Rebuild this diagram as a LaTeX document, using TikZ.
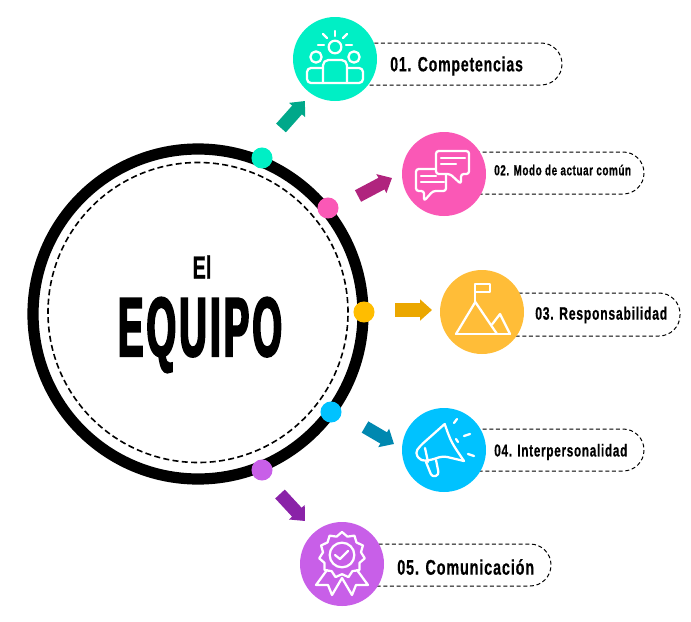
\documentclass[tikz,border=0pt]{standalone}
\usepackage{fontspec}
\usetikzlibrary{arrows.meta,shapes.geometric}
\newfontfamily\labelfont[FakeStretch=0.68,LetterSpace=4,FakeBold=0.5]{Liberation Sans}
\newfontfamily\titlefont[FakeStretch=0.62,FakeBold=0.8]{Liberation Sans}
\newfontfamily\bigfont[FakeStretch=0.45,LetterSpace=4,FakeBold=2.4]{Liberation Sans}
\definecolor{tealc}{HTML}{00EFC5}
\definecolor{pinkc}{HTML}{FA58B6}
\definecolor{yellowc}{HTML}{FFBD38}
\definecolor{yellowdot}{HTML}{FFBD00}
\definecolor{bluec}{HTML}{00C2FF}
\definecolor{purplec}{HTML}{C85FE8}
\definecolor{tealarrow}{HTML}{00A88A}
\definecolor{pinkarrow}{HTML}{B0247E}
\definecolor{yellowarrow}{HTML}{EBA700}
\definecolor{bluearrow}{HTML}{0088B0}
\definecolor{purplearrow}{HTML}{8A22A8}
\tikzset{
  bigdot/.style={circle,fill=#1,inner sep=0pt,minimum size=63pt},
  smalldot/.style={circle,fill=#1,inner sep=0pt,minimum size=15.8pt},
  pill/.style={draw=black,line width=0.75pt,dash pattern=on 3pt off 2pt,rounded corners=15.7pt},
  blockarrow/.style={draw=#1,line width=9.8pt,-{Triangle[width=15.5pt,length=9pt]}},
  iconline/.style={draw=white,line width=1.7pt,line join=round,line cap=round},
  itemtext/.style={text=black,inner sep=0pt,font=\labelfont\bfseries\fontsize{#1}{#1}\selectfont}
}
\begin{document}
\begin{tikzpicture}[x=0.75pt,y=-0.75pt]
\useasboundingbox (0,0) rectangle (691,621);

% Drawing main ring
\node [circle,draw=black,line width=8.4pt,inner sep=0pt,outer sep=0pt,minimum size=247.5pt] (ring) at (198,314) {};
\node [circle,draw=black,line width=1.2pt,dash pattern=on 4.5pt off 2.5pt,inner sep=0pt,outer sep=0pt,minimum size=225pt] (ringin) at (198,312.5) {};

% Drawing title
\node [inner sep=0pt,font=\titlefont\bfseries\fontsize{24}{24}\selectfont] (titlea) at (202,267) {El};
\node [inner sep=0pt,font=\bigfont\bfseries\fontsize{63}{63}\selectfont] (titleb) at (200,335) {EQUIPO};

% Drawing dots on the ring
\node [smalldot=tealc] (dota) at (262,158) {};
\node [smalldot=pinkc] (dotb) at (328,208) {};
\node [smalldot=yellowdot] (dotc) at (364,312) {};
\node [smalldot=bluec] (dotd) at (331,412) {};
\node [smalldot=purplec] (dote) at (262,470) {};

% Drawing dashed pills
\draw [pill] (335,43) rectangle (562,85);
\draw [pill] (444,152) rectangle (644,194);
\draw [pill] (482,293) rectangle (680,336);
\draw [pill] (444,429) rectangle (644,471);
\draw [pill] (342,544) rectangle (551,586);

% Drawing big circles
\node [bigdot=tealc] (circa) at (335,59) {};
\node [bigdot=pinkc] (circb) at (444,174) {};
\node [bigdot=yellowc] (circc) at (482,312) {};
\node [bigdot=bluec] (circd) at (444,450) {};
\node [bigdot=purplec] (circe) at (342,564) {};

% Drawing arrows
\coordinate (taila) at (281,128);
\coordinate (tipa) at (305,101);
\coordinate (tailb) at (358,196);
\coordinate (tipb) at (392,178);
\coordinate (tailc) at (395,310);
\coordinate (tipc) at (432,310);
\coordinate (taild) at (365,427);
\coordinate (tipd) at (394,444);
\coordinate (taile) at (280,494);
\coordinate (tipe) at (305,521);
\draw [blockarrow=tealarrow] (taila) -- (tipa);
\draw [blockarrow=pinkarrow] (tailb) -- (tipb);
\draw [blockarrow=yellowarrow] (tailc) -- (tipc);
\draw [blockarrow=bluearrow] (taild) -- (tipd);
\draw [blockarrow=purplearrow] (taile) -- (tipe);

% Drawing labels
\node [itemtext=15.5,anchor=west] (texta) at (390,66) {01. Competencias};
\node [itemtext=10.9,anchor=west] (textb) at (494,170) {02. Modo de actuar común};
\node [itemtext=13.5,anchor=west] (textc) at (535,315) {03. Responsabilidad};
\node [itemtext=13,anchor=west] (textd) at (494,452) {04. Interpersonalidad};
\node [itemtext=15.9,anchor=west] (texte) at (397,567) {05. Comunicación};

% Drawing people icon
\begin{scope}[shift={(circa.center)}]
\node [circle,iconline,inner sep=0pt,minimum size=9.5pt] (sun) at (0,-12) {};
\node [circle,iconline,inner sep=0pt,minimum size=8.5pt] (heada) at (-19,-2) {};
\node [circle,iconline,inner sep=0pt,minimum size=8.5pt] (headb) at (19,-2) {};
\draw [iconline] (0,-28) -- (0,-23);
\draw [iconline] (-12,-25) -- (-8,-21);
\draw [iconline] (12,-25) -- (8,-21);
\draw [iconline] (-17,-14) -- (-11,-14);
\draw [iconline] (11,-14) -- (17,-14);
\draw [iconline,rounded corners=4pt] (-12,24) -- (-12,1) -- (12,1) -- (12,24);
\draw [iconline,rounded corners=3pt] (-12,9) -- (-28,9) -- (-28,24) -- (28,24) -- (28,9) -- (12,9);
\end{scope}

% Drawing chat icon
\begin{scope}[shift={(circb.center)}]
\draw [iconline,rounded corners=2pt] (-2,-5) -- (-28,-5) -- (-28,17) -- (-20,17) -- (-20,27) -- (-11,17) -- (2,17) -- (2,-5);
\draw [iconline] (-23,2) -- (-8,2);
\draw [iconline] (-23,8) -- (0,8);
\draw [iconline,fill=pinkc,rounded corners=2pt] (-8,-23) -- (25,-23) -- (25,0) -- (17,0) -- (17,10) -- (6,0) -- (-8,0) -- cycle;
\draw [iconline] (-3,-16) -- (21,-16);
\draw [iconline] (-3,-10) -- (12,-10);
\end{scope}

% Drawing mountain icon
\begin{scope}[shift={(circc.center)}]
\draw [iconline] (-6.7,-10) -- (-6.7,-28) -- (7.7,-28) -- (7.7,-20) -- (-6.7,-20);
\draw [iconline] (-26,22) -- (-6.7,-10) -- (15,22);
\draw [iconline] (10,12.5) -- (18,2) -- (28,22);
\draw [iconline] (-26,22) -- (28,22);
\end{scope}

% Drawing megaphone icon
\begin{scope}[shift={(circd.center)}]
\draw [iconline,rounded corners=3pt] (0.7,-26) -- (-24,-4) -- (-29,3) -- (-23,11) -- (-13,10) -- (-1,6) -- (20,11);
\draw [iconline] (0.7,-26) .. controls (7,-8) .. (20,11);
\draw [iconline] (-19,-2) -- (-16,12);
\draw [iconline,rounded corners=2.5pt] (-18,12) -- (-12,27) -- (-5,25) -- (-8,10);
\draw [iconline] (10,-27) -- (13,-31);
\draw [iconline] (20,-14) -- (26,-16);
\draw [iconline] (24,4) -- (30,6);
\draw [iconline] (12,-11) -- (14,-8);
\end{scope}

% Drawing badge icon
\begin{scope}[shift={(circe.center)}]
\node [star,star points=11,star point ratio=1.2,iconline,inner sep=0pt,minimum size=34.5pt] (seal) at (0,-9) {};
\node [circle,iconline,inner sep=0pt,minimum size=18.5pt] (sealin) at (0,-9) {};
\draw [iconline] (-7,-9) -- (-2,-5) -- (6,-13);
\draw [iconline] (-15,6) -- (-26,21) -- (-14,21) -- (-10,31) -- (0,14) -- (10,31) -- (14,21) -- (26,21) -- (15,6);
\end{scope}
\end{tikzpicture}
\end{document}
